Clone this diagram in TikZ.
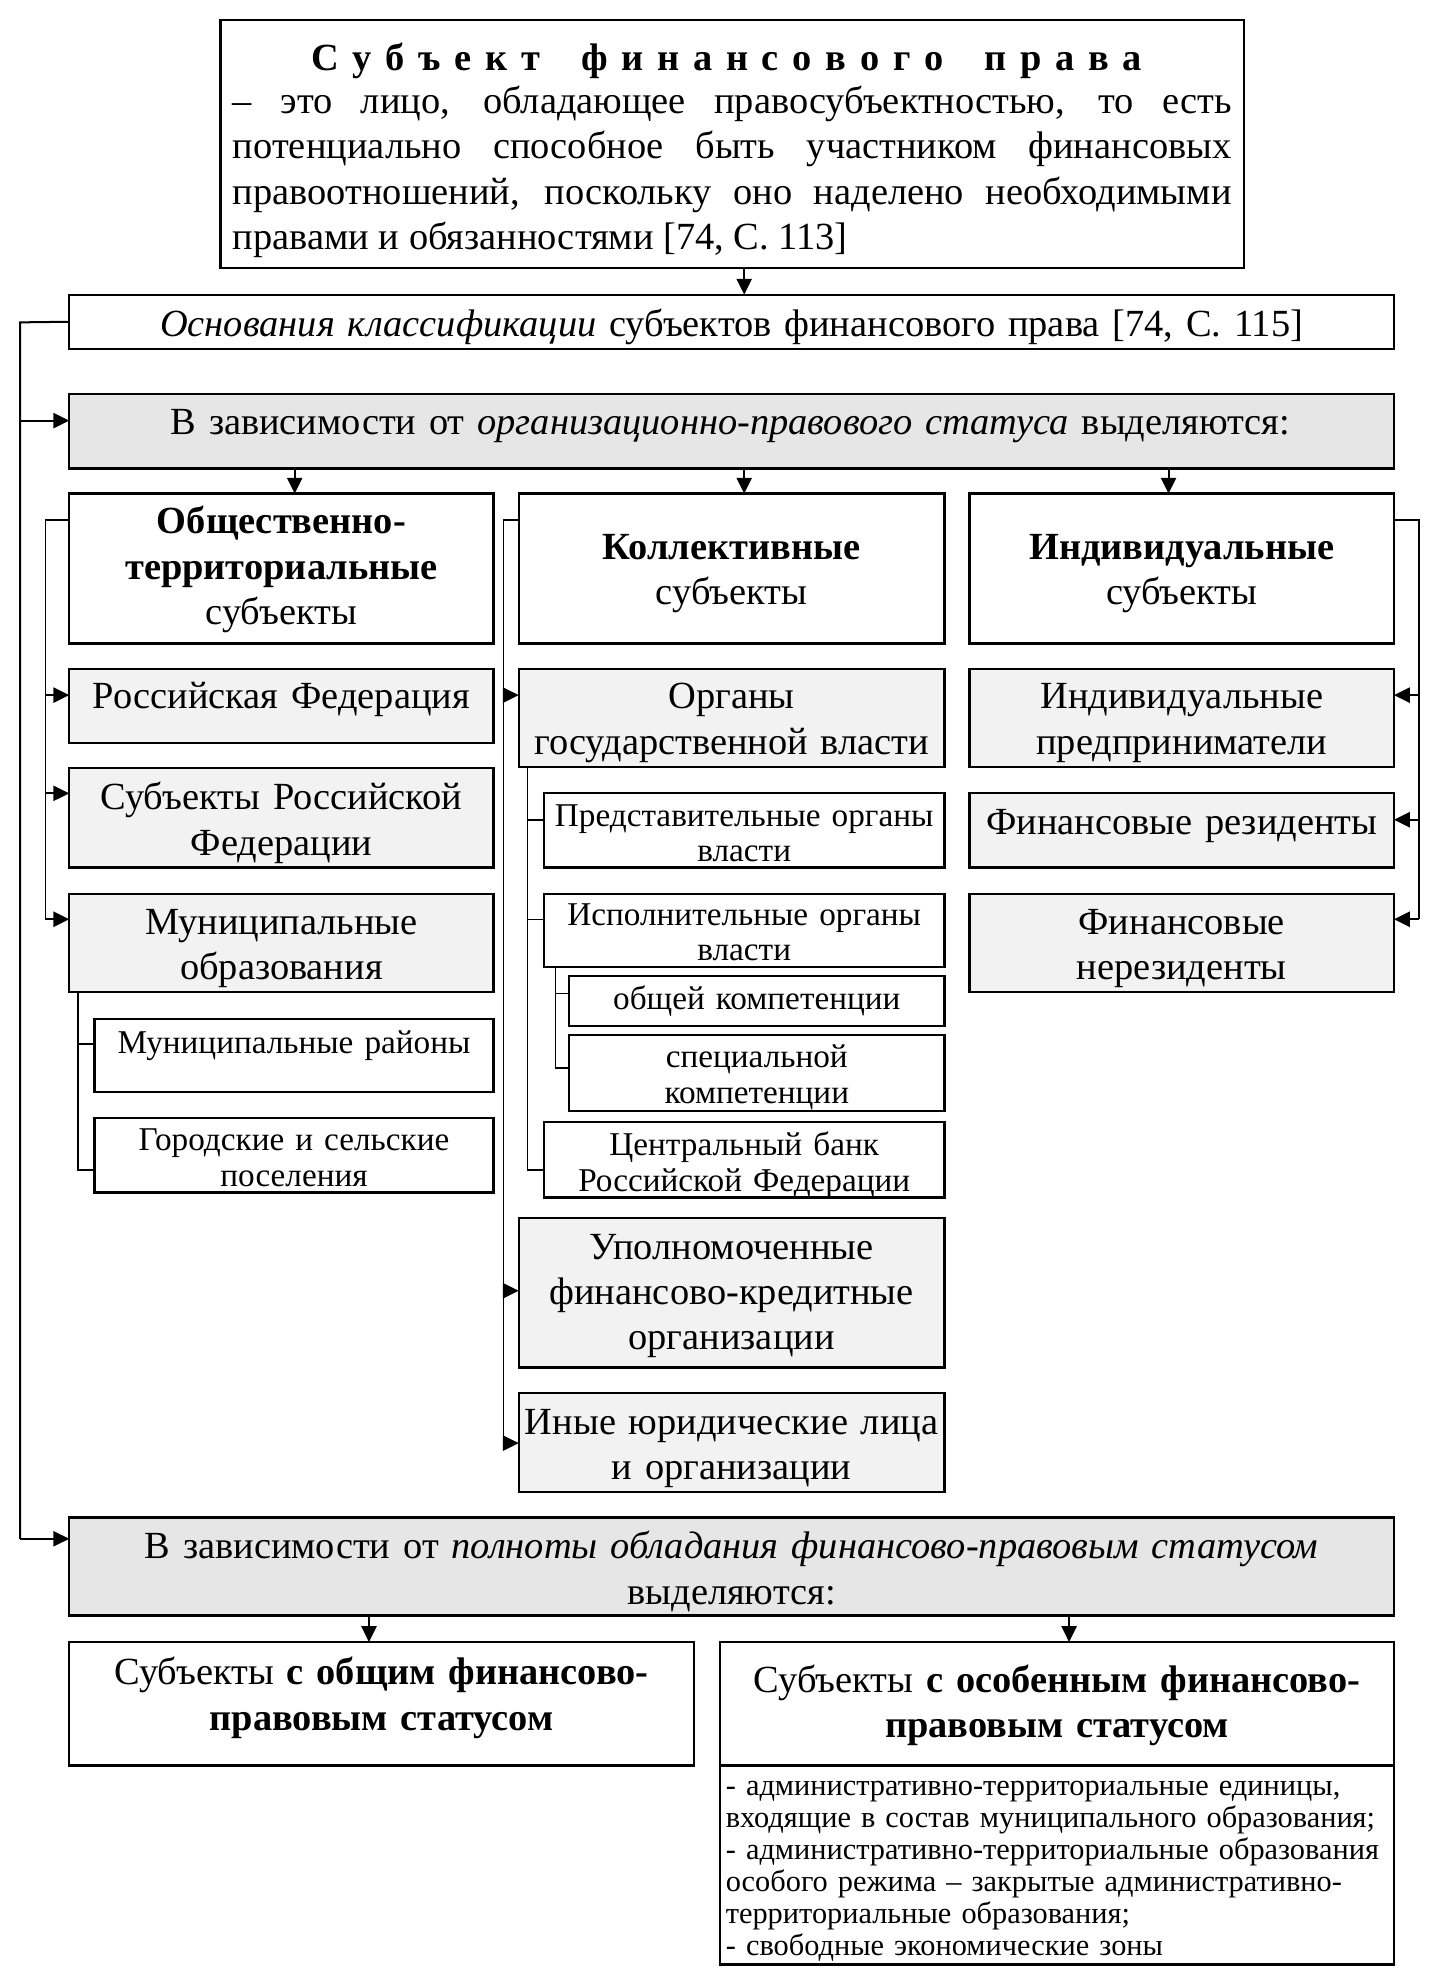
\documentclass[tikz,border=0pt]{standalone}
\usepackage{fontspec}
\setmainfont{Liberation Serif}
\usetikzlibrary{arrows.meta}
\definecolor{gA}{HTML}{E6E6E6}
\definecolor{gB}{HTML}{F2F2F2}
\newcommand\fM{\fontsize{15.25}{18}\selectfont}
\newcommand\fS{\fontsize{13.2}{14}\selectfont}
\newcommand\fL{\fontsize{12.05}{12.7}\selectfont}
\tikzset{
  bx/.style={draw, line width=0.9pt, inner sep=0pt, outer sep=0pt, anchor=north west, fill=white},
  gra/.style={fill=gA},
  grb/.style={fill=gB},
  txt/.style={anchor=base, align=center, text width=520pt, inner sep=0pt, font=\fM},
  sml/.style={font=\fS},
  ln/.style={line width=0.8pt},
  lnt/.style={line width=0.6pt},
  arr/.style={line width=0.8pt, -{Triangle[length=6.3pt,width=6pt]}},
}
\newcommand\Bx[6][]{\node[bx,#1, minimum width={(#4-#2)*0.5pt}, minimum height={(#5-#3)*0.5pt}] (#6) at (#2,#3) {};}
\newcommand\Tx[5][]{\node[txt,#1] (#5) at (#2,#3+3) {#4};}
\begin{document}
\begin{tikzpicture}[x=0.5pt,y=-0.5pt]
\useasboundingbox (0,0) rectangle (1140,1570);
% boxes
\Bx{175}{16}{988}{213}{top}
\Bx{55}{234}{1107}{277}{osn}
\Bx[gra]{55}{313}{1107}{372}{g1}
\Bx{55}{392}{392}{511}{c1}
\Bx{412}{392}{750}{511}{c2}
\Bx{770}{392}{1107}{511}{c3}
\Bx[grb]{55}{531}{392}{590}{rf}
\Bx[grb]{55}{610}{392}{689}{srf}
\Bx[grb]{55}{710}{392}{788}{mo}
\Bx{75}{809}{392}{867}{mr}
\Bx{75}{888}{392}{947}{gsp}
\Bx[grb]{412}{531}{750}{609}{ogv}
\Bx{432}{630}{750}{689}{pred}
\Bx{432}{710}{750}{768}{isp}
\Bx{452}{775}{750}{815}{obsh}
\Bx{452}{822}{750}{882}{spec}
\Bx{432}{891}{750}{951}{cb}
\Bx[grb]{412}{967}{750}{1086}{upol}
\Bx[grb]{412}{1106}{750}{1185}{inye}
\Bx[grb]{770}{531}{1107}{609}{ip}
\Bx[grb]{770}{630}{1107}{689}{fr}
\Bx[grb]{770}{710}{1107}{788}{fnr}
\Bx[gra]{55}{1205}{1107}{1283}{g2}
\Bx{55}{1304}{551}{1402}{gen}
\Bx{572}{1304}{1107}{1402}{spc}
\Bx{572}{1402}{1107}{1560}{lst}
% texts
\Tx{577}{53}{\textbf{\hbox to 330pt{С\hfil у\hfil б\hfil ъ\hfil е\hfil к\hfil т\hfil\hfil\hfil ф\hfil и\hfil н\hfil а\hfil н\hfil с\hfil о\hfil в\hfil о\hfil г\hfil о\hfil\hfil\hfil п\hfil р\hfil а\hfil в\hfil а}}}{ttl}
\node[txt, text width=396.5pt, align=justify] (def) at (581.5,90) {– это лицо, обладающее правосубъектностью, то есть\linebreak потенциально способное быть участником финансовых\linebreak правоотношений, поскольку оно наделено необходимыми\linebreak правами и обязанностями [74, С. 113]};
\Tx{581}{264}{\textit{Основания классификации} субъектов финансового права [74, С. 115]}{tosn}
\Tx{580}{342}{В зависимости от \textit{организационно-правового статуса} выделяются:}{tg1}
\Tx{223.5}{421}{\textbf{Общественно-}\\\textbf{территориальные}\\субъекты}{tc1}
\Tx{581}{441}{\textbf{Коллективные}\\субъекты}{tc2}
\Tx{938.5}{441}{\textbf{Индивидуальные}\\субъекты}{tc3}
\Tx{223.5}{560}{Российская Федерация}{trf}
\Tx{223.5}{640}{Субъекты Российской\\Федерации}{tsrf}
\Tx{223.5}{739}{Муниципальные\\образования}{tmo}
\Tx[sml]{233.5}{834}{Муниципальные районы}{tmr}
\Tx[sml]{233.5}{911}{Городские и сельские\\поселения}{tgsp}
\Tx{581}{560}{Органы\\государственной власти}{togv}
\Tx[sml]{591}{653}{Представительные органы\\власти}{tpred}
\Tx[sml]{591}{732}{Исполнительные органы\\власти}{tisp}
\Tx[sml]{601}{799}{общей компетенции}{tobsh}
\Tx[sml]{601}{845}{специальной\\компетенции}{tspec}
\Tx[sml]{591}{915}{Центральный банк\\Российской Федерации}{tcb}
\Tx{581}{997}{Уполномоченные\\финансово-кредитные\\организации}{tupol}
\Tx{581}{1136}{Иные юридические лица\\и организации}{tinye}
\Tx{938.5}{560}{Индивидуальные\\предприниматели}{tip}
\Tx{938.5}{660}{Финансовые резиденты}{tfr}
\Tx{938.5}{739}{Финансовые\\нерезиденты}{tfnr}
\Tx{581}{1235}{В зависимости от \textit{полноты обладания финансово-правовым статусом}\\выделяются:}{tg2}
\Tx{303}{1335}{Субъекты \textbf{с общим финансово-}\\\textbf{правовым статусом}}{tgen}
\Tx{839.5}{1341}{Субъекты \textbf{с особенным финансово-}\\\textbf{правовым статусом}}{tspc}
\node[txt, anchor=base west, align=left, text width=265pt, font=\fL] (tlst) at (576,1426) {- административно-территориальные единицы,\\входящие в состав муниципального образования;\\- административно-территориальные образования\\особого режима – закрытые административно-\\территориальные образования;\\- свободные экономические зоны};
% connectors
\coordinate (aT) at (591,0);
\draw[arr] (aT |- top.south) -- (aT |- osn.north);
\coordinate (tr1) at (16,256);
\coordinate (tr2) at (16,1222);
\coordinate (tr3) at (16,334);
\draw[ln] (osn.west) -- (tr1) -- (tr2);
\draw[arr] (tr2) -- (tr2 -| g2.west);
\draw[arr] (tr3) -- (tr3 -| g1.west);
\coordinate (d1) at (234,0);
\coordinate (d2) at (591,0);
\coordinate (d3) at (928,0);
\draw[arr] (d1 |- g1.south) -- (d1 |- c1.north);
\draw[arr] (d2 |- g1.south) -- (d2 |- c2.north);
\draw[arr] (d3 |- g1.south) -- (d3 |- c3.north);
% column 1
\coordinate (k1) at (36,413);
\coordinate (k1a) at (36,552);
\coordinate (k1b) at (36,630);
\coordinate (k1c) at (36,730);
\draw[lnt] (k1 -| c1.west) -- (k1) -- (k1c);
\draw[arr] (k1a) -- (k1a -| rf.west);
\draw[arr] (k1b) -- (k1b -| srf.west);
\draw[arr] (k1c) -- (k1c -| mo.west);
\coordinate (m1) at (62,0);
\coordinate (m1a) at (62,829);
\coordinate (m1b) at (62,929);
\draw[lnt] (m1 |- mo.south) -- (m1b) -- (m1b -| gsp.west);
\draw[lnt] (m1a) -- (m1a -| mr.west);
% column 2
\coordinate (k2) at (400,413);
\coordinate (k2a) at (400,552);
\coordinate (k2b) at (400,1025);
\coordinate (k2c) at (400,1146);
\draw[lnt] (k2 -| c2.west) -- (k2) -- (k2c);
\draw[arr] (k2a) -- (k2a -| ogv.west);
\draw[arr] (k2b) -- (k2b -| upol.west);
\draw[arr] (k2c) -- (k2c -| inye.west);
\coordinate (o1) at (419,0);
\coordinate (o1a) at (419,651);
\coordinate (o1b) at (419,730);
\coordinate (o1c) at (419,929);
\draw[lnt] (o1 |- ogv.south) -- (o1c) -- (o1c -| cb.west);
\draw[lnt] (o1a) -- (o1a -| pred.west);
\draw[lnt] (o1b) -- (o1b -| isp.west);
\coordinate (e1) at (441,0);
\coordinate (e1a) at (441,789);
\coordinate (e1b) at (441,848);
\draw[lnt] (e1 |- isp.south) -- (e1b) -- (e1b -| spec.west);
\draw[lnt] (e1a) -- (e1a -| obsh.west);
% column 3
\coordinate (k3) at (1127,413);
\coordinate (k3a) at (1127,552);
\coordinate (k3b) at (1127,651);
\coordinate (k3c) at (1127,730);
\draw[lnt] (k3 -| c3.east) -- (k3) -- (k3c);
\draw[arr] (k3a) -- (k3a -| ip.east);
\draw[arr] (k3b) -- (k3b -| fr.east);
\draw[arr] (k3c) -- (k3c -| fnr.east);
% bottom
\coordinate (f1) at (293,0);
\coordinate (f2) at (849,0);
\draw[arr] (f1 |- g2.south) -- (f1 |- gen.north);
\draw[arr] (f2 |- g2.south) -- (f2 |- spc.north);
\end{tikzpicture}
\end{document}
